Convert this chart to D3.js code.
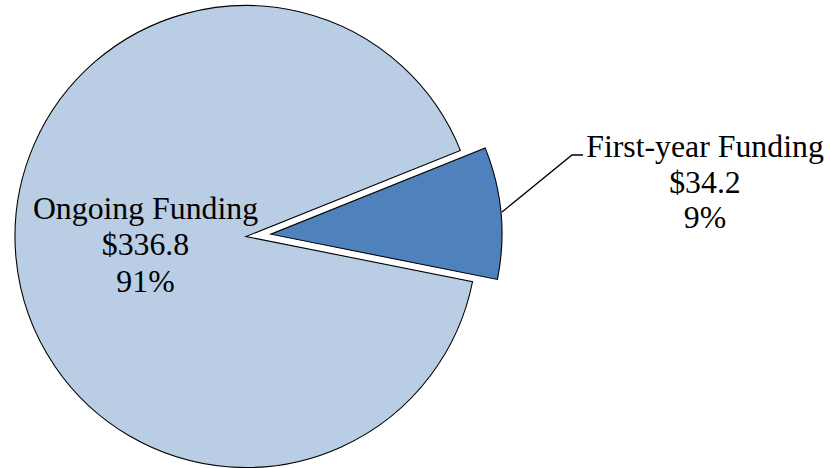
<!DOCTYPE html>
<html>
<head>
<meta charset="utf-8">
<script src="https://cdn.jsdelivr.net/npm/d3@7"></script>
<style>
html,body{margin:0;padding:0;background:#fff;}
svg{display:block;}
text{font-family:"Liberation Serif","Times New Roman",serif;fill:#000;}
</style>
</head>
<body>
<svg id="chart" width="830" height="468"></svg>
<script>
const categories = ["Ongoing Funding", "First-year Funding"];
const values = [336.8, 34.2];
const valueLabels = ["$336.8", "$34.2"];
const percentLabels = ["91%", "9%"];
const colors = ["#B9CDE5", "#4F81BD"];
const explode = [0, 25];

const svg = d3.select("#chart");
const cx = 246, cy = 236.5, R = 231;
const startDeg = 101.3;

const pie = d3.pie().sort(null).value(d => d)
  .startAngle(startDeg * Math.PI / 180)
  .endAngle(startDeg * Math.PI / 180 + 2 * Math.PI);
const arcs = pie(values);
const arc = d3.arc().innerRadius(0).outerRadius(R);

const g = svg.append("g").attr("transform", `translate(${cx},${cy})`);
g.selectAll("path.slice").data(arcs).enter().append("path")
  .attr("class", "slice")
  .attr("d", arc)
  .attr("fill", (d, i) => colors[i])
  .attr("stroke", "#000")
  .attr("stroke-width", 1.1)
  .attr("stroke-linejoin", "miter")
  .attr("transform", (d, i) => {
    const m = (d.startAngle + d.endAngle) / 2;
    return `translate(${explode[i] * Math.sin(m)},${-explode[i] * Math.cos(m)})`;
  });

// leader line for First-year Funding
svg.append("polyline")
  .attr("points", "502,212 572,155 583,155")
  .attr("fill", "none")
  .attr("stroke", "#000")
  .attr("stroke-width", 1.3);

const labelPos = [{x: 145.5, y: 219}, {x: 705, y: 157}];
const lineGap = [36.3, 35.5];
categories.forEach((c, i) => {
  const t = svg.append("text")
    .attr("text-anchor", "middle")
    .attr("font-size", "31.8px");
  [c, valueLabels[i], percentLabels[i]].forEach((s, k) => {
    t.append("tspan").attr("x", labelPos[i].x).attr("y", labelPos[i].y + k * lineGap[i]).text(s);
  });
});
</script>
</body>
</html>
